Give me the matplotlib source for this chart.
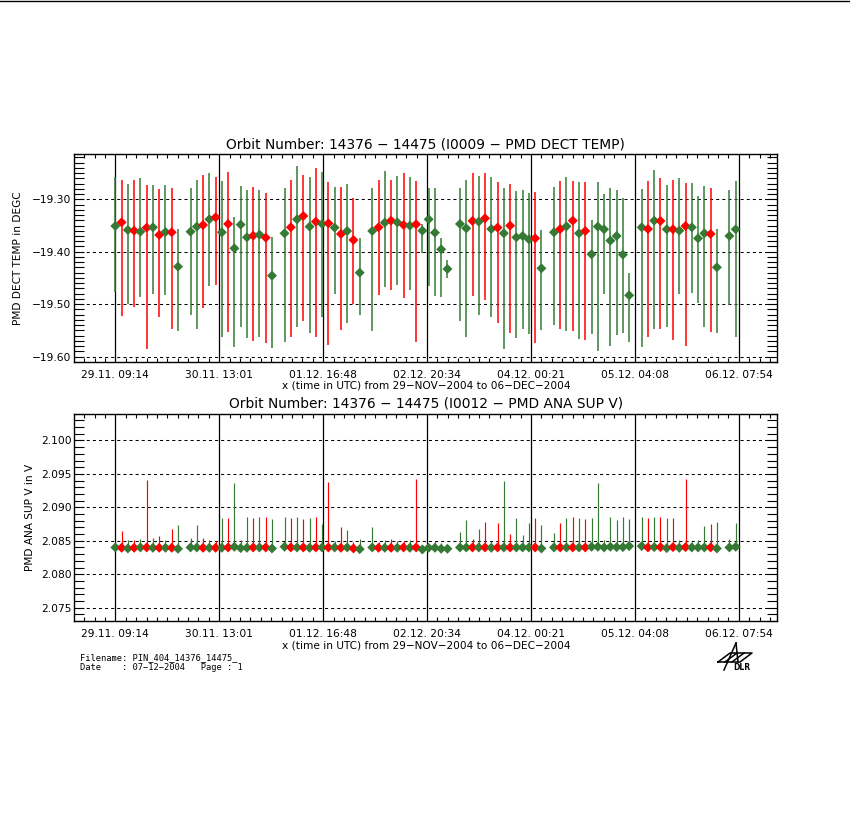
import numpy as np
import matplotlib
matplotlib.use('Agg')
import matplotlib.pyplot as plt
from matplotlib.lines import Line2D

plt.rcParams['font.family'] = 'DejaVu Sans'
plt.rcParams['lines.scale_dashes'] = False

FIRST_ORBIT = 14376
FIRST_HOUR = 9.2333          # 29.11. 09:14 as hours after 29-NOV-2004 00:00
ORBIT_PERIOD_H = 1.6754      # hours per orbit
TICK_STEP_H = 27.7833

orbits = ([14376 + i for i in range(0, 11)] + [14376 + i for i in range(12, 26)]
          + [14376 + i for i in range(27, 40)] + [14376 + i for i in range(41, 54)]
          + [14376 + i for i in range(55, 69)] + [14376 + i for i in range(70, 83)]
          + [14376 + i for i in range(84, 97)] + [14376 + i for i in range(98, 100)])

flags = ("GRGRGRGRGRG" + "GGRGRGRGGGRGRG" + "GRGRGRGRGRGRG" + "GRGRGRGRGGGGG"
         + "GGRGRGRGRGGGRG" + "GRGRGRGGGGGGG" + "GRGRGRGRGGGRG" + "GG")

temp_mean = [
    -19.3509, -19.3439, -19.3585, -19.3598, -19.3617, -19.3540, -19.3534, -19.3680, -19.3623, -19.3629, -19.4284,
    -19.3617, -19.3521, -19.3490, -19.3381, -19.3343, -19.3629, -19.3470, -19.3935, -19.3483, -19.3725, -19.3693, -19.3674, -19.3731, -19.4456,
    -19.3648, -19.3534, -19.3381, -19.3318, -19.3521, -19.3426, -19.3470, -19.3458, -19.3540, -19.3661, -19.3604, -19.3776, -19.4399,
    -19.3604, -19.3534, -19.3445, -19.3407, -19.3439, -19.3490, -19.3502, -19.3477, -19.3598, -19.3381, -19.3636, -19.3954, -19.4329,
    -19.3470, -19.3553, -19.3413, -19.3426, -19.3362, -19.3566, -19.3540, -19.3648, -19.3502, -19.3725, -19.3699, -19.3763, -19.3744, -19.4316,
    -19.3629, -19.3566, -19.3515, -19.3407, -19.3648, -19.3604, -19.4049, -19.3521, -19.3572, -19.3788, -19.3699, -19.4055, -19.4831,
    -19.3534, -19.3566, -19.3407, -19.3413, -19.3572, -19.3572, -19.3598, -19.3509, -19.3534, -19.3744, -19.3648, -19.3661, -19.4297,
    -19.3699, -19.3572]
temp_max = [
    -19.2568, -19.2631, -19.2708, -19.2631, -19.2600, -19.2727, -19.2727, -19.2803, -19.2727, -19.2790, -19.3566,
    -19.2790, -19.2631, -19.2536, -19.2491, -19.2568, -19.2644, -19.2472, -19.3343, -19.2740, -19.2822, -19.2758, -19.2822, -19.2873, -19.3725,
    -19.2778, -19.2631, -19.2358, -19.2536, -19.2568, -19.2409, -19.2472, -19.2663, -19.2758, -19.2758, -19.2708, -19.2981, -19.3744,
    -19.2790, -19.2631, -19.2459, -19.2631, -19.2549, -19.2504, -19.2568, -19.2644, -19.3477, -19.2778, -19.2778, -19.3731, -19.4157,
    -19.2778, -19.2631, -19.2491, -19.2555, -19.2504, -19.2568, -19.2663, -19.2790, -19.2714, -19.2835, -19.2822, -19.2886, -19.2854, -19.3585,
    -19.2758, -19.2650, -19.2568, -19.2650, -19.2676, -19.2663, -19.3394, -19.2663, -19.2898, -19.2790, -19.2822, -19.2981, -19.4411,
    -19.2803, -19.2650, -19.2441, -19.2600, -19.2727, -19.2631, -19.2600, -19.2682, -19.2695, -19.2930, -19.2740, -19.2778, -19.3566,
    -19.2822, -19.2650]
temp_min = [
    -19.4761, -19.5219, -19.4996, -19.5047, -19.4856, -19.5854, -19.4805, -19.5238, -19.4825, -19.5467, -19.5511,
    -19.5206, -19.5479, -19.5066, -19.4653, -19.4634, -19.5632, -19.5537, -19.5810, -19.5429, -19.5651, -19.5696, -19.5632, -19.5746, -19.5842,
    -19.5727, -19.5619, -19.5441, -19.5314, -19.5555, -19.5619, -19.5238, -19.5778, -19.4805, -19.5492, -19.5365, -19.4996, -19.5206,
    -19.5505, -19.4825, -19.4666, -19.4729, -19.4634, -19.4875, -19.4729, -19.5715, -19.4030, -19.4647, -19.4837, -19.4856, -19.4507,
    -19.5314, -19.5632, -19.4837, -19.5206, -19.4920, -19.5238, -19.5365, -19.5861, -19.5543, -19.5651, -19.5473, -19.5568, -19.5746, -19.5492,
    -19.5397, -19.5473, -19.5505, -19.5505, -19.5664, -19.5683, -19.5568, -19.5886, -19.4805, -19.5797, -19.5587, -19.5556, -19.5727,
    -19.5810, -19.5619, -19.5473, -19.5473, -19.5441, -19.5683, -19.4805, -19.5791, -19.4793, -19.4983, -19.5429, -19.5524, -19.5543,
    -19.5015, -19.5619]

volt_mean = [
    2.08400, 2.08395, 2.08385, 2.08395, 2.08400, 2.08400, 2.08395, 2.08395, 2.08395, 2.08395, 2.08380,
    2.08400, 2.08400, 2.08395, 2.08395, 2.08395, 2.08395, 2.08400, 2.08410, 2.08390, 2.08395, 2.08400, 2.08400, 2.08400, 2.08385,
    2.08410, 2.08400, 2.08400, 2.08400, 2.08395, 2.08400, 2.08400, 2.08400, 2.08400, 2.08395, 2.08400, 2.08385, 2.08375,
    2.08400, 2.08395, 2.08395, 2.08395, 2.08395, 2.08400, 2.08395, 2.08400, 2.08370, 2.08395, 2.08395, 2.08380, 2.08380,
    2.08400, 2.08400, 2.08400, 2.08400, 2.08400, 2.08395, 2.08400, 2.08400, 2.08400, 2.08400, 2.08400, 2.08400, 2.08400, 2.08385,
    2.08400, 2.08400, 2.08400, 2.08400, 2.08400, 2.08400, 2.08410, 2.08410, 2.08400, 2.08410, 2.08405, 2.08405, 2.08420,
    2.08420, 2.08400, 2.08405, 2.08405, 2.08390, 2.08405, 2.08395, 2.08405, 2.08400, 2.08400, 2.08400, 2.08400, 2.08385,
    2.08400, 2.08410]
volt_max = [
    2.08450, 2.08645, 2.08510, 2.08510, 2.08525, 2.09410, 2.08545, 2.08575, 2.08510, 2.08675, 2.08735,
    2.08545, 2.08735, 2.08545, 2.08510, 2.08495, 2.08845, 2.08845, 2.09368, 2.08510, 2.08860, 2.08845, 2.08860, 2.08860, 2.08825,
    2.08860, 2.08845, 2.08860, 2.08825, 2.08845, 2.08860, 2.08750, 2.09383, 2.08495, 2.08710, 2.08660, 2.08475, 2.08520,
    2.08710, 2.08475, 2.08510, 2.08520, 2.08495, 2.08495, 2.08510, 2.09423, 2.08370, 2.08450, 2.08500, 2.08460, 2.08440,
    2.08635, 2.08810, 2.08525, 2.08675, 2.08780, 2.08500, 2.08760, 2.09393, 2.08600, 2.08845, 2.08585, 2.08770, 2.08845, 2.08735,
    2.08620, 2.08770, 2.08845, 2.08860, 2.08845, 2.08830, 2.08845, 2.09368, 2.08510, 2.08860, 2.08810, 2.08860, 2.08825,
    2.08860, 2.08845, 2.08860, 2.08860, 2.08835, 2.08845, 2.08510, 2.09423, 2.08485, 2.08510, 2.08725, 2.08750, 2.08780,
    2.08525, 2.08770]

tick_labels = ['29.11. 09:14', '30.11. 13:01', '01.12. 16:48', '02.12. 20:34',
               '04.12. 00:21', '05.12. 04:08', '06.12. 07:54']

RED = '#ff0000'
GREEN = '#347a34'

W, H = 850, 825


def fx(px):
    return px / W


def fy(py):
    return 1 - py / H


hours = FIRST_HOUR + (np.array(orbits) - FIRST_ORBIT) * ORBIT_PERIOD_H
colors = [RED if f == 'R' else GREEN for f in flags]
major_x = [FIRST_HOUR + k * TICK_STEP_H for k in range(len(tick_labels))]
XLIM = (-1.74, 186.28)
minor_x = [v for v in np.arange(FIRST_HOUR - 4 * TICK_STEP_H / 10, XLIM[1], TICK_STEP_H / 10)
           if XLIM[0] < v < XLIM[1]]


def style_axes(ax, ylim, yticks, yminor, yfmt):
    ax.set_xlim(*XLIM)
    ax.set_ylim(*ylim)
    for s in ax.spines.values():
        s.set_linewidth(1.0)
    ax.set_xticks(major_x)
    ax.set_xticklabels(tick_labels, fontsize=7.7)
    ax.set_xticks(minor_x, minor=True)
    ax.tick_params(axis='x', which='major', length=0, pad=5.5)
    ax.tick_params(axis='x', which='minor', direction='in', length=3.2, width=0.8,
                   top=True, bottom=True)
    ax.set_yticks(yticks)
    ax.set_yticklabels([(yfmt % v).replace('-', '\u2212') for v in yticks], fontsize=7.7)
    ax.set_yticks(yminor, minor=True)
    ax.tick_params(axis='y', which='both', direction='in', length=7.5, width=0.8,
                   left=True, right=True, pad=2)
    for v in yticks:
        ax.axhline(v, color='black', lw=0.75, ls=(0, (2.2, 2.2)), zorder=1)
    for v in major_x:
        ax.axvline(v, color='black', lw=0.9, zorder=1)


fig = plt.figure(figsize=(8.5, 8.25), dpi=100)
fig.add_artist(Line2D([0, 1], [fy(1), fy(1)], color='black', lw=1))

ax1 = fig.add_axes([fx(74.3), fy(362.3), fx(777.5) - fx(74.3), fy(154.3) - fy(362.3)])
style_axes(ax1, (-19.6108, -19.2142), [-19.60, -19.50, -19.40, -19.30],
           np.arange(-19.61, -19.215, 0.01), '%.2f')
ax1.vlines(hours, temp_min, temp_max, colors=colors, lw=1.1, zorder=3)
ax1.scatter(hours, temp_mean, c=colors, marker='D', s=26, linewidths=0, zorder=4)

ax2 = fig.add_axes([fx(74.3), fy(621), fx(777.5) - fx(74.3), fy(413.7) - fy(621)])
style_axes(ax2, (2.0730, 2.1040), [2.075, 2.080, 2.085, 2.090, 2.095, 2.100],
           np.arange(2.073, 2.1041, 0.001), '%.3f')
ax2.vlines(hours, volt_mean, volt_max, colors=colors, lw=0.85, zorder=3)
ax2.scatter(hours, volt_mean, c=colors, marker='D', s=26, linewidths=0, zorder=4)

cx = fx((74.3 + 777.5) / 2)
fig.text(cx, fy(145), 'Orbit Number: 14376 \u2212 14475 (I0009 \u2212 PMD DECT TEMP)',
         ha='center', va='center', fontsize=9.9)
fig.text(cx, fy(386), 'x (time in UTC) from 29\u2212NOV\u22122004 to 06\u2212DEC\u22122004',
         ha='center', va='center', fontsize=7.6)
fig.text(cx, fy(403), 'Orbit Number: 14376 \u2212 14475 (I0012 \u2212 PMD ANA SUP V)',
         ha='center', va='center', fontsize=9.9)
fig.text(cx, fy(645), 'x (time in UTC) from 29\u2212NOV\u22122004 to 06\u2212DEC\u22122004',
         ha='center', va='center', fontsize=7.6)
fig.text(fx(18), fy(258), 'PMD DECT TEMP in DEGC', rotation=90,
         ha='center', va='center', fontsize=7.6)
fig.text(fx(30), fy(517), 'PMD ANA SUP V in V', rotation=90,
         ha='center', va='center', fontsize=7.6)

fig.text(fx(80), fy(658), 'Filename: PIN_404_14376_14475_', family='DejaVu Sans Mono',
         ha='left', va='center', fontsize=6.3)
fig.text(fx(80), fy(667), 'Date    : 07\u221212\u22122004   Page : 1', family='DejaVu Sans Mono',
         ha='left', va='center', fontsize=6.3)

# DLR logo, roughly
logo = [
    [(718, 662), (740, 662), (752, 653), (730, 653), (718, 662)],
    [(725, 662), (737, 653)],
    [(732, 662), (744, 653)],
    [(736, 643), (724, 670)],
    [(736, 643), (738, 662)],
]
for seg in logo:
    xs = [fx(p[0]) for p in seg]
    ys = [fy(p[1]) for p in seg]
    fig.add_artist(Line2D(xs, ys, color='black', lw=1.1))
fig.text(fx(742), fy(668), 'DLR', ha='center', va='center', fontsize=5.5, weight='bold')

fig.savefig('out.png', dpi=100)
